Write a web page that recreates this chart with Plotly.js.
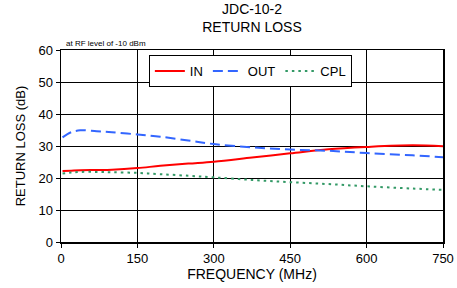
<!DOCTYPE html>
<html><head><meta charset="utf-8">
<script src="https://cdn.plot.ly/plotly-3.0.1.min.js"></script>
<style>body{margin:0;background:#fff}#c{width:457px;height:288px}</style>
</head><body><div id="c"></div>
<script>
var freq = [3, 20, 38, 70, 100, 150, 195, 250, 300, 375, 450, 525, 600, 690, 750];
var inRL = [22.2, 22.3, 22.4, 22.5, 22.6, 23.1, 23.8, 24.5, 25.1, 26.4, 27.7, 29.0, 29.7, 30.2, 29.9];
var outRL = [32.7, 34.3, 34.9, 34.6, 34.3, 33.6, 32.9, 31.7, 30.6, 29.6, 28.9, 28.5, 27.8, 27.1, 26.5];
var cplRL = [21.4, 21.7, 21.9, 21.9, 21.8, 21.6, 21.2, 20.7, 20.2, 19.4, 18.7, 18.1, 17.4, 16.7, 16.3];
var seriesNames = ['IN', 'OUT', 'CPL'];
var xTicks = [0, 150, 300, 450, 600, 750];
var yTicks = [0, 10, 20, 30, 40, 50, 60];

var F = 'Arial, "Liberation Sans", sans-serif';
var traces = [
  {x: freq, y: inRL, name: seriesNames[0], mode: 'lines', line: {color: '#FF0000', width: 2, shape: 'spline'}},
  {x: freq, y: outRL, name: seriesNames[1], mode: 'lines', line: {color: '#3366FF', width: 2, dash: '10px,5px', shape: 'spline'}},
  {x: freq, y: cplRL, name: seriesNames[2], mode: 'lines', line: {color: '#339966', width: 2, dash: '2.5px,4px', shape: 'spline'}}
];
var layout = {
  width: 457, height: 288,
  margin: {l: 61, r: 14, t: 50, b: 46},
  paper_bgcolor: '#fff', plot_bgcolor: '#fff',
  font: {family: F, size: 13, color: '#000'},
  title: {text: 'JDC-10-2<br>RETURN LOSS', font: {family: F, size: 14, color: '#000'}, x: 0.5, xref: 'paper',
    yref: 'container', y: 0.951, yanchor: 'top'},
  xaxis: {range: [0, 750], tickvals: xTicks, ticktext: xTicks.map(String), showgrid: true, gridcolor: '#000', gridwidth: 1,
    showline: true, linecolor: '#000', linewidth: 1.5, mirror: true, ticks: 'outside', ticklen: 4, tickcolor: '#000',
    tickfont: {family: F, size: 13},
    zeroline: false, title: {text: 'FREQUENCY (MHz)', font: {family: F, size: 14}, standoff: 3}},
  yaxis: {range: [0, 60], tickvals: yTicks, ticktext: yTicks.map(String), showgrid: true, gridcolor: '#000', gridwidth: 1,
    showline: true, linecolor: '#000', linewidth: 1.5, mirror: true, ticks: 'outside', ticklen: 4, tickcolor: '#000',
    tickfont: {family: F, size: 13},
    zeroline: false, title: {text: 'RETURN LOSS (dB)', font: {family: F, size: 13}, standoff: 10}},
  showlegend: true,
  legend: {orientation: 'h', x: 0.230, xanchor: 'left', y: 0.974, yanchor: 'top', bgcolor: '#fff', bordercolor: '#000', borderwidth: 1,
    font: {family: F, size: 13}, itemwidth: 30, tracegroupgap: 0},
  annotations: [{text: 'at RF level of -10 dBm', xref: 'paper', yref: 'paper', x: 0.008, y: 1.0, xanchor: 'left', yanchor: 'bottom',
    showarrow: false, font: {family: F, size: 8, color: '#000'}}]
};
Plotly.newPlot('c', traces, layout, {staticPlot: true});
</script></body></html>
